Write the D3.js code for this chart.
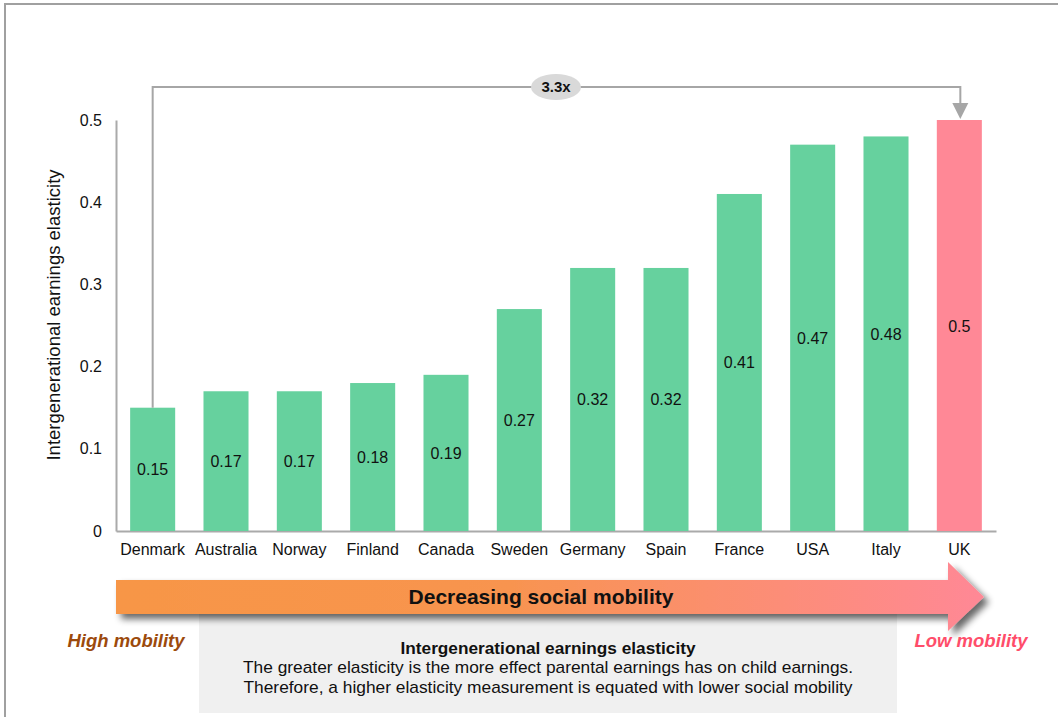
<!DOCTYPE html>
<html>
<head>
<meta charset="utf-8">
<script src="https://cdn.jsdelivr.net/npm/d3@7/dist/d3.min.js"></script>
<style>
  html, body { margin: 0; padding: 0; background: #fff; }
  svg { display: block; font-family: "Liberation Sans", Arial, sans-serif; }
</style>
</head>
<body>
<svg id="chart" width="1058" height="717"></svg>
<script>
// Intergenerational earnings elasticity by country
const countries = ["Denmark", "Australia", "Norway", "Finland", "Canada", "Sweden",
                   "Germany", "Spain", "France", "USA", "Italy", "UK"];
const elasticity = [0.15, 0.17, 0.17, 0.18, 0.19, 0.27, 0.32, 0.32, 0.41, 0.47, 0.48, 0.5];
const yTicks = [0, 0.1, 0.2, 0.3, 0.4, 0.5];
const highlightCountry = "UK";
const ratioLabel = "3.3x";

const svg = d3.select("#chart");

// page frame (top and left edges)
svg.append("path")
  .attr("d", "M5,717 V4 H1058")
  .attr("fill", "none")
  .attr("stroke", "#a0a0a0")
  .attr("stroke-width", 2);

const x = d3.scaleBand().domain(countries).range([116, 996]).paddingInner(0.386).paddingOuter(0.193);
const y = d3.scaleLinear().domain([0, 0.5]).range([531, 120]);

// y axis
const yAxis = svg.append("g").attr("transform", "translate(116,0)")
  .call(d3.axisLeft(y).tickValues(yTicks).tickSize(0).tickPadding(14)
    .tickFormat(d => d === 0 ? "0" : d3.format(".1f")(d)));
yAxis.select(".domain").attr("stroke", "#aaaaaa").attr("stroke-width", 2);
yAxis.selectAll("text").attr("font-size", 16).attr("fill", "#111")
  .attr("font-family", "Liberation Sans, Arial, sans-serif");

// x axis
const xAxis = svg.append("g").attr("transform", "translate(0,531)")
  .call(d3.axisBottom(x).tickSize(0).tickPadding(13));
xAxis.select(".domain").attr("stroke", "#aaaaaa").attr("stroke-width", 2);
xAxis.selectAll("text").attr("font-size", 16).attr("fill", "#111")
  .attr("font-family", "Liberation Sans, Arial, sans-serif");

// y axis title
svg.append("text")
  .attr("transform", "translate(60,315) rotate(-90)")
  .attr("text-anchor", "middle")
  .attr("font-size", 18.5)
  .attr("fill", "#111")
  .text("Intergenerational earnings elasticity");

const data = countries.map((c, i) => ({ country: c, value: elasticity[i] }));

// bars
svg.append("g").selectAll("rect").data(data).join("rect")
  .attr("x", d => x(d.country))
  .attr("y", d => y(d.value))
  .attr("width", x.bandwidth())
  .attr("height", d => y(0) - y(d.value))
  .attr("fill", d => d.country === highlightCountry ? "#ff8896" : "#66d19e");

// value labels at bar mid-height
svg.append("g").selectAll("text").data(data).join("text")
  .attr("x", d => x(d.country) + x.bandwidth() / 2)
  .attr("y", d => (y(d.value) + y(0)) / 2 + 6)
  .attr("text-anchor", "middle")
  .attr("font-size", 16)
  .attr("fill", "#111")
  .text(d => d.value);

// comparison bracket from lowest to highlighted bar
const first = data[0], last = data[data.length - 1];
const x0 = x(first.country) + x.bandwidth() / 2;
const x1 = x(last.country) + x.bandwidth() / 2 + 1;
const topY = 87;
svg.append("path")
  .attr("d", `M${x0},${y(first.value)} V${topY} H${x1} V${y(last.value) - 14}`)
  .attr("fill", "none")
  .attr("stroke", "#a6a6a6")
  .attr("stroke-width", 2);
svg.append("path")
  .attr("d", `M${x1 - 8},${y(last.value) - 17} L${x1 + 8},${y(last.value) - 17} L${x1},${y(last.value) - 1} Z`)
  .attr("fill", "#a6a6a6");
svg.append("ellipse")
  .attr("cx", 556).attr("cy", topY)
  .attr("rx", 25).attr("ry", 13)
  .attr("fill", "#d9d9d9");
svg.append("text")
  .attr("x", 556).attr("y", topY + 5)
  .attr("text-anchor", "middle")
  .attr("font-size", 15)
  .attr("font-weight", "bold")
  .attr("fill", "#111")
  .text(ratioLabel);

// explanatory panel
svg.append("rect")
  .attr("x", 199).attr("y", 612)
  .attr("width", 698).attr("height", 101)
  .attr("fill", "#f0f0f0");
svg.append("text")
  .attr("x", 548).attr("y", 654)
  .attr("text-anchor", "middle")
  .attr("font-size", 17).attr("font-weight", "bold").attr("fill", "#111")
  .attr("textLength", 295).attr("lengthAdjust", "spacingAndGlyphs")
  .text("Intergenerational earnings elasticity");
svg.append("text")
  .attr("x", 548).attr("y", 673)
  .attr("text-anchor", "middle")
  .attr("font-size", 17).attr("fill", "#111")
  .attr("textLength", 610).attr("lengthAdjust", "spacingAndGlyphs")
  .text("The greater elasticity is the more effect parental earnings has on child earnings.");
svg.append("text")
  .attr("x", 548).attr("y", 693)
  .attr("text-anchor", "middle")
  .attr("font-size", 17).attr("fill", "#111")
  .attr("textLength", 609).attr("lengthAdjust", "spacingAndGlyphs")
  .text("Therefore, a higher elasticity measurement is equated with lower social mobility");

// mobility direction arrow
const defs = svg.append("defs");
const grad = defs.append("linearGradient").attr("id", "mobGrad")
  .attr("x1", "0%").attr("x2", "100%").attr("y1", "0%").attr("y2", "0%");
grad.append("stop").attr("offset", "0%").attr("stop-color", "#f79646");
grad.append("stop").attr("offset", "45%").attr("stop-color", "#f8944f");
grad.append("stop").attr("offset", "100%").attr("stop-color", "#ff8896");
const shadow = defs.append("filter").attr("id", "arrowShadow")
  .attr("x", "-5%").attr("y", "-40%").attr("width", "115%").attr("height", "200%");
shadow.append("feGaussianBlur").attr("in", "SourceAlpha").attr("stdDeviation", 3.5).attr("result", "blur");
shadow.append("feOffset").attr("in", "blur").attr("dx", 5).attr("dy", 5).attr("result", "off");
shadow.append("feComponentTransfer").attr("in", "off").attr("result", "soft")
  .append("feFuncA").attr("type", "linear").attr("slope", 0.6);
const merge = shadow.append("feMerge");
merge.append("feMergeNode").attr("in", "soft");
merge.append("feMergeNode").attr("in", "SourceGraphic");

svg.append("path")
  .attr("d", "M116,580 H948 V562 L984,597 L948,631 V614 H116 Z")
  .attr("fill", "url(#mobGrad)")
  .attr("filter", "url(#arrowShadow)");
svg.append("text")
  .attr("x", 541).attr("y", 604)
  .attr("text-anchor", "middle")
  .attr("font-size", 21).attr("font-weight", "bold").attr("fill", "#111")
  .text("Decreasing social mobility");

svg.append("text")
  .attr("x", 126).attr("y", 647)
  .attr("text-anchor", "middle")
  .attr("font-size", 18.5).attr("font-weight", "bold").attr("font-style", "italic")
  .attr("fill", "#9c4a0c")
  .text("High mobility");
svg.append("text")
  .attr("x", 971).attr("y", 647)
  .attr("text-anchor", "middle")
  .attr("font-size", 18.5).attr("font-weight", "bold").attr("font-style", "italic")
  .attr("fill", "#ff4d6a")
  .text("Low mobility");
</script>
</body>
</html>
